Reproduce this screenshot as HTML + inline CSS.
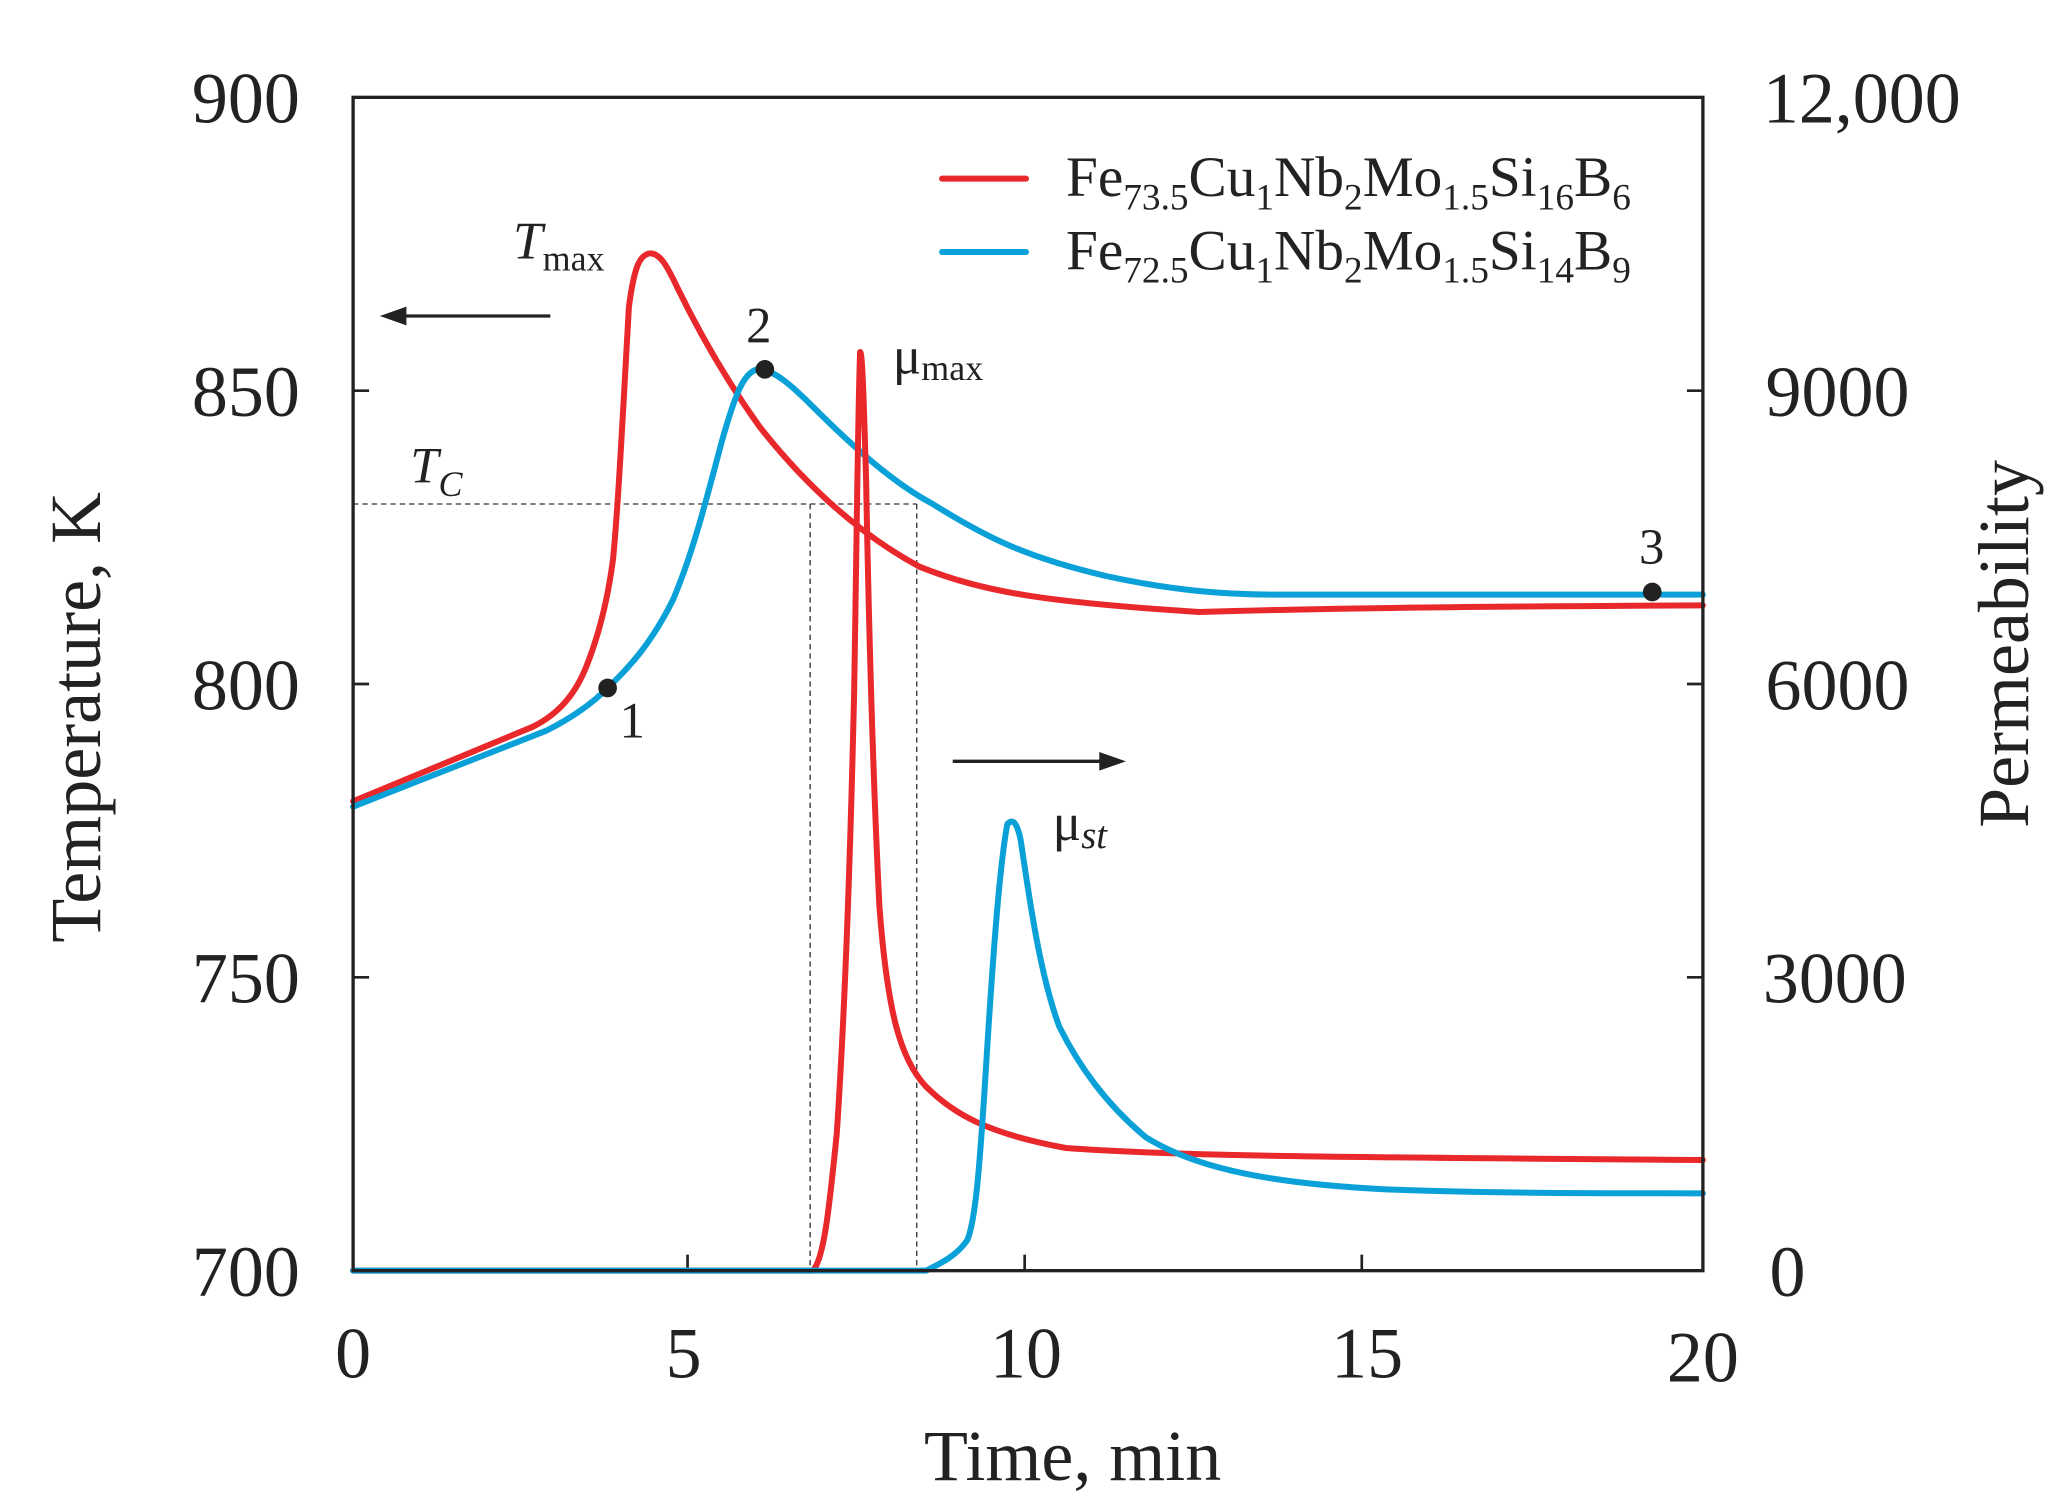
<!DOCTYPE html>
<html><head><meta charset="utf-8"><style>html,body{margin:0;padding:0;background:#fff}svg{display:block}</style></head>
<body>
<svg width="2068" height="1508" viewBox="0 0 1552 1131" preserveAspectRatio="none" xmlns="http://www.w3.org/2000/svg" font-family="Liberation Serif, serif" fill="#222">
<rect width="1552" height="1131" fill="#fff"/>
<g stroke="#333" stroke-width="1" stroke-dasharray="4,3" fill="none">
<path d="M265 378 H688 M608 378 V953 M688 378 V953"/>
</g>
<g stroke="#222" stroke-width="2">
<path d="M516 953 v-12 M769 953 v-12 M1022 953 v-12"/>
<path d="M265 293 h12 M265 513 h12 M265 733 h12"/>
<path d="M1278 293 h-12 M1278 513 h-12 M1278 733 h-12"/>
</g>
<g fill="none" stroke-width="4.5" stroke-linejoin="round" stroke-linecap="round">
<path stroke="#e8282a" d="M265 601 L400 545 C420 535 432 520 440 500 C450 475 456 450 460 420 C464 380 468 300 472 230 C476 200 480 191 488 190 C495 190 500 198 508 215 C525 250 545 285 570 320 C600 358 640 398 690 425 C740 445 790 452 900 459 C1000 456 1100 455 1278 454"/>
<path stroke="#0aa0d8" d="M265 605 L410 548 C430 538 445 527 456 516 C475 498 490 480 505 450 C520 415 530 375 542 330 C552 295 558 280 568 277 C580 276 595 290 610 305 C640 335 670 362 700 378 C740 403 770 418 830 432 C880 443 920 446 960 446 L1278 446"/>
<path stroke="#e8282a" d="M265 953 L610 953 C618 945 622 910 628 850 C634 760 638 650 641 520 C643 400 644 300 645.5 264 C647 264 648 290 650 360 C652 470 655 580 660 680 C666 760 676 795 695 815 C715 835 740 850 800 861 C880 867 1000 868 1278 870"/>
<path stroke="#0aa0d8" d="M265 953 L695 953 C705 948 718 942 726 930 C732 915 735 880 740 800 C745 720 750 650 756 618 C760 614 763 616 766 630 C772 670 780 730 795 770 C810 800 830 828 860 853 C900 878 960 888 1040 892 C1120 895 1200 895 1278 895"/>
<path stroke="#e8282a" d="M707 134 H770"/>
<path stroke="#0aa0d8" d="M707 189 H770"/>
</g>
<rect x="265" y="73" width="1013" height="880" fill="none" stroke="#222" stroke-width="2.5"/>
<g stroke="#222" stroke-width="2.5"><path d="M413 237 H300"/><path d="M715 571 H830"/></g>
<path d="M285 237 L305 230 L305 244 Z" fill="#222"/>
<path d="M845 571 L825 564 L825 578 Z" fill="#222"/>
<circle cx="456" cy="516" r="7"/><circle cx="574" cy="277" r="7"/><circle cx="1240" cy="444" r="7"/>
<g font-size="38">
<text x="465" y="553">1</text><text x="560" y="257">2</text><text x="1230" y="423">3</text>
</g>
<g font-size="54" text-anchor="end">
<text x="225" y="92">900</text><text x="225" y="312">850</text><text x="225" y="532">800</text><text x="225" y="752">750</text><text x="225" y="972">700</text>
</g>
<g font-size="54" text-anchor="start">
<text x="1323" y="92">12,000</text><text x="1325" y="312">9000</text><text x="1325" y="532">6000</text><text x="1323" y="752">3000</text><text x="1328" y="972">0</text>
</g>
<g font-size="54" text-anchor="middle">
<text x="265" y="1033">0</text><text x="513" y="1033">5</text><text x="770" y="1033">10</text><text x="1026" y="1033">15</text><text x="1278" y="1036">20</text>
<text x="805" y="1110">Time, min</text>
</g>
<text font-size="54" text-anchor="middle" transform="translate(75,538) rotate(-90)">Temperature, K</text>
<text font-size="54" text-anchor="middle" transform="translate(1522,483) rotate(-90)">Permeability</text>
<text x="385" y="194" font-size="40"><tspan font-style="italic">T</tspan><tspan font-size="27" dy="9">max</tspan></text>
<text x="308" y="362" font-size="38"><tspan font-style="italic">T</tspan><tspan font-size="27" dy="10" font-style="italic">C</tspan></text>
<text x="670" y="280" font-size="40">μ<tspan font-size="27" dy="5">max</tspan></text>
<text x="790" y="630" font-size="40">μ<tspan font-size="29" dy="6" font-style="italic">st</tspan></text>
<text x="800" y="147" font-size="43">Fe<tspan font-size="28" dy="10">73.5</tspan><tspan dy="-10">Cu</tspan><tspan font-size="28" dy="10">1</tspan><tspan dy="-10">Nb</tspan><tspan font-size="28" dy="10">2</tspan><tspan dy="-10">Mo</tspan><tspan font-size="28" dy="10">1.5</tspan><tspan dy="-10">Si</tspan><tspan font-size="28" dy="10">16</tspan><tspan dy="-10">B</tspan><tspan font-size="28" dy="10">6</tspan></text>
<text x="800" y="202" font-size="43">Fe<tspan font-size="28" dy="10">72.5</tspan><tspan dy="-10">Cu</tspan><tspan font-size="28" dy="10">1</tspan><tspan dy="-10">Nb</tspan><tspan font-size="28" dy="10">2</tspan><tspan dy="-10">Mo</tspan><tspan font-size="28" dy="10">1.5</tspan><tspan dy="-10">Si</tspan><tspan font-size="28" dy="10">14</tspan><tspan dy="-10">B</tspan><tspan font-size="28" dy="10">9</tspan></text>
</svg>
</body></html>
